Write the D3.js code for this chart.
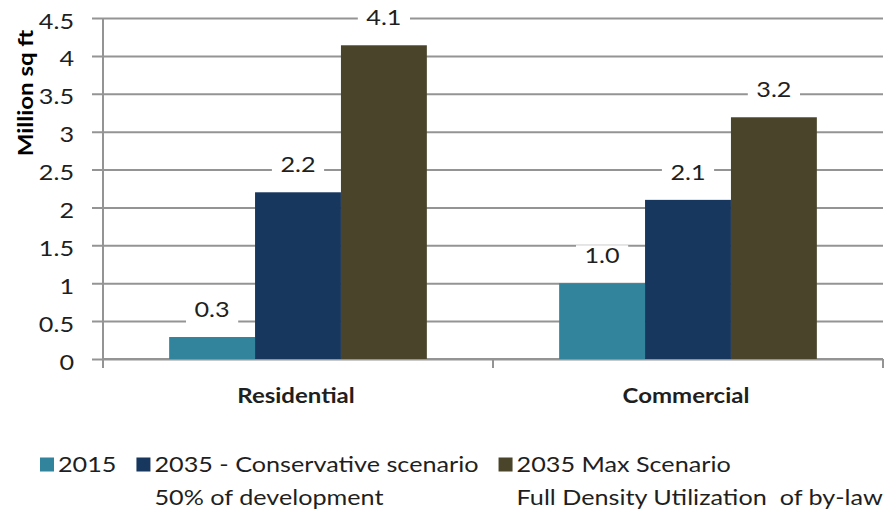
<!DOCTYPE html>
<html>
<head>
<meta charset="utf-8">
<script src="https://cdn.jsdelivr.net/npm/d3@7"></script>
<style>
body { margin: 0; background: #fff; }
text { font-family: Lato, "Open Sans", sans-serif; fill: #1f1f1f; white-space: pre; }
</style>
</head>
<body>
<div id="chart"></div>
<script>
var categories = ["Residential", "Commercial"];
var seriesNames = ["2015", "2035 - Conservative scenario", "2035 Max Scenario"];
var seriesNotes = ["", "50% of development", "Full Density Utilization  of by-law"];
var seriesColors = ["#31849b", "#17375e", "#4a452a"];
var values2015 = [0.29, 1.0];
var valuesConservative = [2.2, 2.1];
var valuesMax = [4.14, 3.19];
var yTicks = [0, 0.5, 1, 1.5, 2, 2.5, 3, 3.5, 4, 4.5];
var yTitle = "Million sq ft";

var seriesValues = [values2015, valuesConservative, valuesMax];

var W = 886, H = 512;
var SX = 1.2; // text in the picture is drawn wide
var plotLeft = 103, plotRight = 883, plotTop = 18, plotBottom = 359;

var svg = d3.select("#chart").append("svg")
    .attr("width", W)
    .attr("height", H);

var x = d3.scaleBand().domain(categories).range([plotLeft, plotRight]);
var xs = d3.scaleBand().domain(seriesNames).range([0, x.bandwidth()]).paddingOuter(0.77);
var y = d3.scaleLinear().domain([0, 4.5]).range([plotBottom, plotTop]);

// stretch a text node horizontally around its anchor point
function widen(sel, px, py, rot) {
  sel.attr("transform", function(d, i) {
    return "translate(" + px(d, i) + "," + py(d, i) + ")" +
      (rot ? " rotate(" + rot + ")" : "") + " scale(" + SX + ",1)";
  }).attr("x", 0).attr("y", 0);
}

// y axis with gridlines
var yAxis = d3.axisLeft(y)
    .tickValues(yTicks)
    .tickSize(plotRight - plotLeft + 11)
    .tickPadding(18)
    .tickFormat(d3.format("~g"));

var gy = svg.append("g")
    .attr("transform", "translate(" + plotRight + ",0)")
    .call(yAxis);
gy.select(".domain").remove();
gy.selectAll(".tick line").attr("stroke", "#949494").attr("stroke-width", 2);
gy.selectAll(".tick text")
    .attr("font-size", 21)
    .attr("font-family", "Lato, sans-serif")
    .style("fill", "#1f1f1f")
    .attr("dy", "0.48em")
    .call(widen, function() { return -(plotRight - plotLeft + 11) - 18; }, function() { return 0; });

// y title
svg.append("text")
    .attr("text-anchor", "middle")
    .attr("font-size", 20)
    .attr("font-weight", "bold")
    .style("fill", "#000")
    .text(yTitle)
    .call(widen, function() { return 33; }, function() { return 93; }, -90);

// vertical axis line
svg.append("line")
    .attr("x1", plotLeft).attr("x2", plotLeft)
    .attr("y1", plotTop).attr("y2", plotBottom + 9)
    .attr("stroke", "#949494").attr("stroke-width", 2);

// x axis line + category boundary ticks
svg.append("line")
    .attr("x1", plotLeft).attr("x2", plotRight)
    .attr("y1", plotBottom).attr("y2", plotBottom)
    .attr("stroke", "#949494").attr("stroke-width", 2);

var bounds = categories.map(function(c) { return x(c); }).concat([plotRight]);
svg.append("g").selectAll("line").data(bounds).join("line")
    .attr("x1", function(d) { return d; }).attr("x2", function(d) { return d; })
    .attr("y1", plotBottom).attr("y2", plotBottom + 9)
    .attr("stroke", "#949494").attr("stroke-width", 2);

// category labels
svg.append("g").selectAll("text").data(categories).join("text")
    .attr("text-anchor", "middle")
    .attr("font-size", 20)
    .attr("font-weight", "bold")
    .text(function(d) { return d; })
    .call(widen, function(d) { return x(d) + x.bandwidth() / 2 - 2; }, function() { return 403; });

// bars
var rows = [];
categories.forEach(function(c, ci) {
  seriesNames.forEach(function(s, si) {
    rows.push({cat: c, series: s, color: seriesColors[si], value: seriesValues[si][ci]});
  });
});

svg.append("g").selectAll("rect").data(rows).join("rect")
    .attr("x", function(d) { return x(d.cat) + xs(d.series); })
    .attr("width", xs.bandwidth())
    .attr("y", function(d) { return y(d.value); })
    .attr("height", function(d) { return y(0) - y(d.value); })
    .attr("fill", function(d) { return d.color; });

// data labels with white boxes
var fmt = d3.format(".1f");
var lab = svg.append("g").selectAll("g").data(rows).join("g");
lab.append("rect").attr("fill", "#fff");
lab.append("text")
    .attr("text-anchor", "middle")
    .attr("font-size", 21)
    .text(function(d) { return fmt(d.value); })
    .call(widen, function(d) { return x(d.cat) + xs(d.series) + xs.bandwidth() / 2; },
                 function(d) { return y(d.value) - 20; });
lab.each(function(d) {
  var g = d3.select(this);
  var w = g.select("text").node().getComputedTextLength() * SX + 17;
  var cx = x(d.cat) + xs(d.series) + xs.bandwidth() / 2;
  g.select("rect")
    .attr("x", cx - w / 2).attr("width", w)
    .attr("y", y(d.value) - 38).attr("height", 24);
});

// legend
var legend = svg.append("g");
var lx = 40;
seriesNames.forEach(function(s, i) {
  var item = legend.append("g");
  item.append("rect")
      .attr("x", lx).attr("y", 457.5)
      .attr("width", 14).attr("height", 14)
      .attr("fill", seriesColors[i]);
  var tx = lx + 18;
  var t1 = item.append("text").attr("font-size", 21).text(s)
      .call(widen, function() { return tx; }, function() { return 472; });
  var w = t1.node().getComputedTextLength() * SX;
  if (seriesNotes[i]) {
    var t2 = item.append("text").attr("font-size", 21).text(seriesNotes[i])
        .call(widen, function() { return tx; }, function() { return 505; });
    w = Math.max(w, t2.node().getComputedTextLength() * SX);
  }
  lx = tx + w + 20;
});
</script>
</body>
</html>
